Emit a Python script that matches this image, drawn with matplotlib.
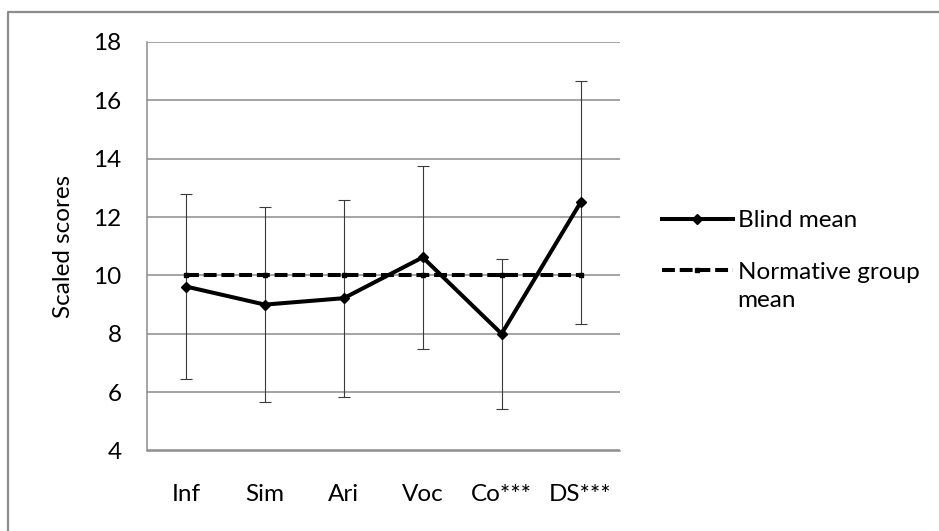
import matplotlib.pyplot as plt
from matplotlib.lines import Line2D

categories = ['Inf', 'Sim', 'Ari', 'Voc', 'Co***', 'DS***']
blind_mean = [9.62, 9.0, 9.22, 10.62, 8.0, 12.5]
blind_err = [3.17, 3.35, 3.38, 3.13, 2.57, 4.17]
normative_mean = [10, 10, 10, 10, 10, 10]

plt.rcParams['font.family'] = ['Lato', 'DejaVu Sans']
FS = 17.5

fig = plt.figure(figsize=(9.39, 5.31), dpi=100)
ax = fig.add_axes([146.5 / 939, 1 - 450.5 / 531, 473.5 / 939, 408.5 / 531])

x = range(len(categories))

# error bars first, thin grey
ax.errorbar(x, blind_mean, yerr=blind_err, fmt='none', ecolor='#3a3a3a',
            elinewidth=0.8, capsize=4.5, capthick=0.8, zorder=3)
ax.plot(x, normative_mean, color='black', linestyle=(0, (3.2, 1.2)), linewidth=2.9,
        marker='s', markersize=3.5, label='Normative group', zorder=4)
ax.plot(x, blind_mean, color='black', linewidth=2.9, marker='D', markersize=5,
        label='Blind mean', zorder=5)

ax.set_xlim(-0.5, len(categories) - 0.5)
ax.set_ylim(4, 18)
ax.set_yticks(range(4, 19, 2))
ax.set_xticks(list(x))
ax.set_xticklabels(categories)
ax.yaxis.grid(True, color='#8c8c8c', linewidth=1.1)
ax.set_axisbelow(True)
ax.tick_params(axis='both', length=0, labelsize=FS, colors='black')
ax.tick_params(axis='x', pad=24)
ax.tick_params(axis='y', pad=18)
for side in ['top', 'right']:
    ax.spines[side].set_visible(False)
for side in ['left', 'bottom']:
    ax.spines[side].set_color('#8c8c8c')
    ax.spines[side].set_linewidth(1.1)

ax.set_ylabel('Scaled scores', fontsize=FS, labelpad=14)

handles, labels = ax.get_legend_handles_labels()
leg = fig.legend(handles[::-1], labels[::-1], loc='upper left',
                 bbox_to_anchor=(650 / 939, 1 - 198 / 531), frameon=False,
                 fontsize=FS, handlelength=2.9, handletextpad=0.2,
                 labelspacing=1.25, borderpad=0)

# second line of the normative label, placed under its first line
fig.canvas.draw()
bb = leg.get_texts()[1].get_window_extent()
fig.text(bb.x0 / 939, (bb.y0 - 7) / 531, 'mean', fontsize=FS, va='top', ha='left')

# chart border (open at right and bottom, as in the source)
fig.add_artist(Line2D([8 / 939, 8 / 939, 1], [0, 1 - 12 / 531, 1 - 12 / 531],
                      transform=fig.transFigure, color='#8c8c8c', linewidth=1.6))

fig.savefig('out.png', dpi=100)
